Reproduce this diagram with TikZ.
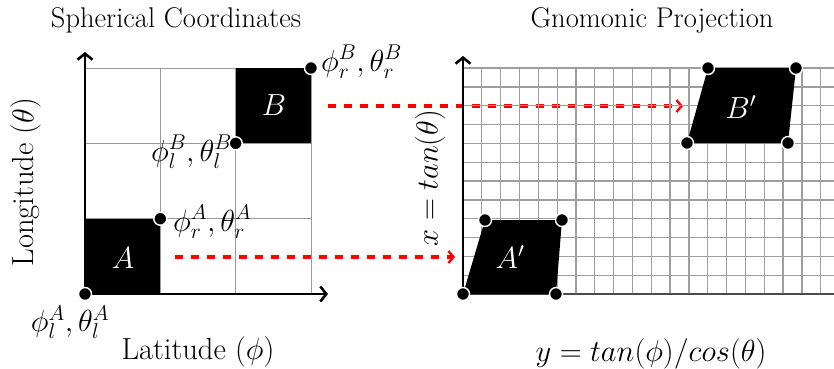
\RequirePackage{fix-cm}
\documentclass[tikz,border=0pt]{standalone}
\usetikzlibrary{arrows.meta}
\begin{document}
\begin{tikzpicture}[x=1pt,y=-1pt,
  every node/.style={font=\fontsize{30.5}{36}\selectfont},
  titletext/.style={font=\fontsize{28.5}{34}\selectfont},
  dot/.style={circle,fill=black,draw=white,line width=1.4pt,inner sep=0pt,minimum size=13pt},
  axisline/.style={line width=2.8pt,-{Straight Barb[length=6pt,width=15pt,line width=2.6pt]}},
  gridl/.style={draw=black!40,line width=0.9pt},
  gridr/.style={draw=black!38,line width=1.3pt},
  redarrow/.style={draw=red,line width=3.2pt,dash pattern=on 8pt off 8pt,-{Straight Barb[length=5pt,width=12pt,line width=2.4pt]}},
  lbl/.style={inner sep=0pt},
  shapelbl/.style={text=white,inner sep=0pt}]
\useasboundingbox (0,0) rectangle (834,368);
\clip (0,0) rectangle (834,368);
% ---------- arrows (under the right grid) ----------
\coordinate (s1) at (175,257);
\coordinate (e1) at (455,257);
\coordinate (s2) at (328,106);
\coordinate (e2) at (683,106);
\draw[redarrow] (s1) -- (e1);
\draw[redarrow] (s2) -- (e2);
% ---------- left panel ----------
\foreach \i in {1,2,3} {
  \draw[gridl] ({85+75.33*\i},294) -- ({85+75.33*\i},68);
  \draw[gridl] (85,{294-75.33*\i}) -- (311,{294-75.33*\i});
}
\fill[black] (85,294) rectangle (160.3,218.7);
\fill[black] (235.7,143.3) rectangle (311,68);
\coordinate (O1) at (85,294);
\coordinate (Y1) at (85,52);
\coordinate (X1) at (328,294);
\draw[axisline] (O1) -- (Y1);
\draw[axisline] (O1) -- (X1);
\node[shapelbl] (A) at (123,258) {$A$};
\node[shapelbl] (B) at (274,105) {$B$};
\node[lbl,anchor=west] (lBr) at (321,62) {$\phi_r^B,\theta_r^B$};
\node[lbl,anchor=east] (lBl) at (232,152) {$\phi_l^B,\theta_l^B$};
\node[lbl,anchor=west] (lAr) at (173,222) {$\phi_r^A,\theta_r^A$};
\node[lbl] (lAl) at (70,322) {$\phi_l^A,\theta_l^A$};
\node[dot] (dAl) at (85,294) {};
\node[dot] (dAr) at (160.3,218.7) {};
\node[dot] (dBl) at (235.7,143.3) {};
\node[dot] (dBr) at (311,68) {};
\node[titletext] (t1) at (176,20) {Spherical Coordinates};
\node (xl1) at (198,352) {Latitude ($\phi$)};
\node[rotate=90] (yl1) at (26,182) {Longitude ($\theta$)};
% ---------- right panel ----------
\foreach \i in {0,...,20} {
  \draw[gridr] ({463+18.83*\i},294) -- ({463+18.83*\i},68);
}
\foreach \j in {1,...,12} {
  \draw[gridr] (463,{294-18.83*\j}) -- (834,{294-18.83*\j});
}
\coordinate (O2) at (463,294);
\coordinate (Y2) at (463,56);
\coordinate (X2) at (850,294);
\draw[line width=2.6pt,draw=black!70] (O2) -- (X2);
\draw[axisline] (O2) -- (Y2);
\fill[black] (463,294) -- (556,294) -- (562,220) -- (485,220) -- cycle;
\fill[black] (687,143) -- (788,143) -- (796,68) -- (708,68) -- cycle;
\node[shapelbl] (Ap) at (510,257) {$A'$};
\node[shapelbl] (Bp) at (741,107) {$B'$};
\node[dot] (a1) at (463,294) {};
\node[dot] (a2) at (556,294) {};
\node[dot] (a3) at (562,220) {};
\node[dot] (a4) at (485,220) {};
\node[dot] (b1) at (687,143) {};
\node[dot] (b2) at (788,143) {};
\node[dot] (b3) at (796,68) {};
\node[dot] (b4) at (708,68) {};
\node[titletext] (t2) at (652,20) {Gnomonic Projection};
\node (xl2) at (651,354) {$y = tan(\phi)/cos(\theta)$};
\node[rotate=90] (yl2) at (430,178) {$x = tan(\theta)$};
\end{tikzpicture}
\end{document}
